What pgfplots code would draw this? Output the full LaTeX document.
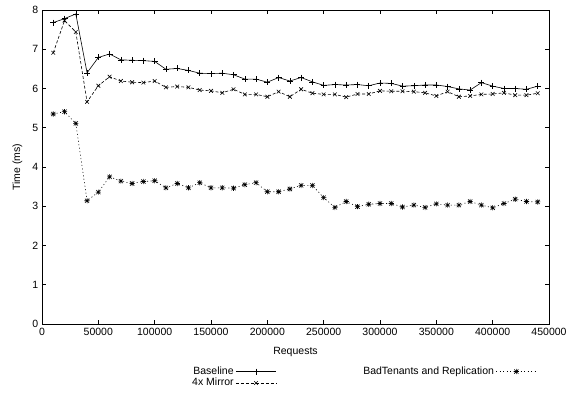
\documentclass[border=0pt]{standalone}
\usepackage{fontspec}
\setmainfont{Liberation Sans}
\usepackage{pgfplots}
\pgfplotsset{compat=1.18}
\pgfdeclareplotmark{gpstar}{%
  \pgfpathmoveto{\pgfqpoint{-\pgfplotmarksize}{0pt}}\pgfpathlineto{\pgfqpoint{\pgfplotmarksize}{0pt}}%
  \pgfpathmoveto{\pgfqpoint{0pt}{-\pgfplotmarksize}}\pgfpathlineto{\pgfqpoint{0pt}{\pgfplotmarksize}}%
  \pgfpathmoveto{\pgfqpoint{-0.8\pgfplotmarksize}{-0.8\pgfplotmarksize}}\pgfpathlineto{\pgfqpoint{0.8\pgfplotmarksize}{0.8\pgfplotmarksize}}%
  \pgfpathmoveto{\pgfqpoint{-0.8\pgfplotmarksize}{0.8\pgfplotmarksize}}\pgfpathlineto{\pgfqpoint{0.8\pgfplotmarksize}{-0.8\pgfplotmarksize}}%
  \pgfusepathqstroke}
\begin{document}
\fontsize{10.5bp}{12bp}\selectfont
\begin{tikzpicture}
\path[use as bounding box] (-42bp,-74bp) rectangle (524bp,324bp);
\begin{axis}[
  scale only axis, width=507bp, height=314bp,
  at={(0,0)}, anchor=south west,
  xmin=0, xmax=450000, ymin=0, ymax=8,
  xtick={0,50000,100000,150000,200000,250000,300000,350000,400000,450000}, ytick={0,1,...,8},
  scaled x ticks=false,
  /pgf/number format/fixed,
  /pgf/number format/precision=0,
  /pgf/number format/1000 sep={},
  /pgf/number format/assume math mode=true,
  tick align=inside, tick pos=both,
  major tick length=4bp,
  axis line style={line width=0.8pt},
  tick style={line width=0.6pt, black},
  tick label style={font=\fontsize{10.5bp}{12bp}\selectfont},
  label style={font=\fontsize{10.5bp}{12bp}\selectfont},
  xlabel={Requests}, ylabel={Time (ms)},
  xlabel style={at={(axis description cs:0.5,-0.0892)}, anchor=center},
  ylabel style={at={(axis description cs:-0.0483,0.5)}, anchor=center},
  legend columns=2,
  legend plot pos=right,
  legend cell align=right,
  legend style={at={(rel axis cs:0.292,-0.134)}, anchor=north west, draw=none, fill=none, inner sep=0pt,
    font=\fontsize{10.5bp}{12bp}\selectfont,
    nodes={inner xsep=2bp, inner ysep=0pt, text height=8bp, text depth=2.5bp},
    row sep=1bp,
    /tikz/every even column/.append style={column sep=85bp}},
  legend image code/.code={\draw[mark repeat=2,mark phase=2,#1] plot coordinates {(0bp,0bp) (20bp,0bp) (40bp,0bp)};},
  every axis plot/.append style={line width=0.6pt, black},
]
\addplot[solid, mark=+, mark size=3bp, mark options={solid}] coordinates {
(10000,7.68)(20000,7.78)(30000,7.90)(40000,6.40)(50000,6.79)(60000,6.88)(70000,6.73)(80000,6.72)(90000,6.71)(100000,6.69)
(110000,6.49)(120000,6.51)(130000,6.46)(140000,6.39)(150000,6.38)(160000,6.39)(170000,6.35)(180000,6.24)(190000,6.24)(200000,6.16)
(210000,6.28)(220000,6.19)(230000,6.28)(240000,6.17)(250000,6.08)(260000,6.10)(270000,6.09)(280000,6.10)(290000,6.07)(300000,6.14)
(310000,6.13)(320000,6.06)(330000,6.07)(340000,6.09)(350000,6.09)(360000,6.05)(370000,5.99)(380000,5.96)(390000,6.15)(400000,6.06)
(410000,6.00)(420000,6.00)(430000,5.98)(440000,6.06)};
\addlegendentry{Baseline}
\addplot[dash pattern=on 1pt off 2.5pt, mark=gpstar, mark size=2.6bp, mark options={solid}] coordinates {
(10000,5.35)(20000,5.41)(30000,5.11)(40000,3.14)(50000,3.36)(60000,3.75)(70000,3.64)(80000,3.58)(90000,3.63)(100000,3.65)
(110000,3.47)(120000,3.58)(130000,3.47)(140000,3.60)(150000,3.47)(160000,3.47)(170000,3.46)(180000,3.55)(190000,3.60)(200000,3.37)
(210000,3.37)(220000,3.44)(230000,3.53)(240000,3.53)(250000,3.22)(260000,2.97)(270000,3.12)(280000,2.99)(290000,3.05)(300000,3.07)
(310000,3.07)(320000,2.98)(330000,3.03)(340000,2.97)(350000,3.06)(360000,3.03)(370000,3.03)(380000,3.12)(390000,3.03)(400000,2.96)
(410000,3.07)(420000,3.18)(430000,3.12)(440000,3.11)};
\addlegendentry{BadTenants and Replication}
\addplot[dash pattern=on 3pt off 2pt, mark=x, mark size=2.6bp, mark options={solid}] coordinates {
(10000,6.91)(20000,7.73)(30000,7.44)(40000,5.66)(50000,6.07)(60000,6.30)(70000,6.19)(80000,6.16)(90000,6.15)(100000,6.19)
(110000,6.03)(120000,6.05)(130000,6.03)(140000,5.96)(150000,5.94)(160000,5.89)(170000,5.98)(180000,5.85)(190000,5.85)(200000,5.79)
(210000,5.92)(220000,5.79)(230000,5.98)(240000,5.88)(250000,5.85)(260000,5.85)(270000,5.78)(280000,5.86)(290000,5.86)(300000,5.94)
(310000,5.93)(320000,5.93)(330000,5.92)(340000,5.89)(350000,5.81)(360000,5.92)(370000,5.79)(380000,5.81)(390000,5.85)(400000,5.86)
(410000,5.89)(420000,5.83)(430000,5.83)(440000,5.88)};
\addlegendentry{4x Mirror}
\end{axis}
\end{tikzpicture}
\end{document}
